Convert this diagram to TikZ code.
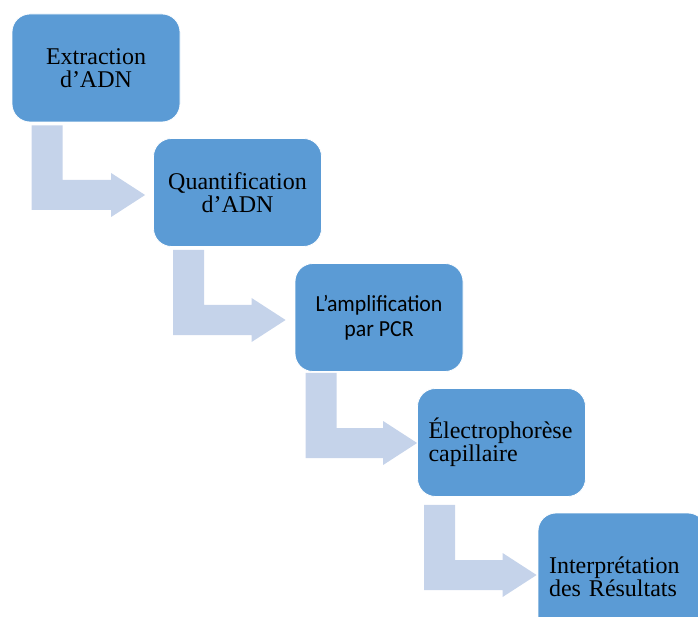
\documentclass[tikz,border=0pt]{standalone}
\usepackage{fontspec}
\setmainfont{Liberation Serif}
\newfontfamily\calibrifont[FakeStretch=0.95]{Carlito}
\usetikzlibrary{calc,backgrounds}
\definecolor{boxblue}{RGB}{91,155,213}
\definecolor{flowblue}{RGB}{197,211,234}
\begin{document}
\begin{tikzpicture}[x=1pt,y=-1pt,
    etape/.style={rounded corners=18pt, fill=boxblue, draw=white, line width=0.8pt,
        minimum width=168pt, minimum height=108pt, inner sep=11pt, align=center,
        font=\fontsize{24}{23}\selectfont},
    etapegauche/.style={etape, text width=146pt, align=left}]
\useasboundingbox (0,0) rectangle (698,617);
\clip (0,0) rectangle (698,617);

% Boxes, one step down and right each time
\node[etape] (extraction) at (96,68) {Extraction\\d’ADN};
\node[etape] (quantif) at (237.5,192.5) {Quantification\\d’ADN};
\node[etape, font=\calibrifont\fontsize{23}{25}\selectfont] (amplif) at (379,317.5) {L’amplification\\par PCR};
\node[etapegauche] (electro) at (501.5,442.5) {Électrophorèse\\capillaire};
\node[etapegauche, minimum height=128pt] (interp) at (622,577) {Interprétation\\des Résultats};

% Bent arrows behind the boxes
\begin{pgfonlayer}{background}
\foreach \a/\b/\dx/\dy/\gap/\off in {extraction/quantif/20/3/8/2.5, quantif/amplif/20/3/9/2.5,
        amplif/electro/11/1/0/0.5, electro/interp/7/8/1/-2}
    \fill[flowblue] let \p1=($(\a.south west)+(\dx,\dy)$), \p2=($(\b.west)+(-\gap,\off)$) in
        (\x1,\y1) -- (\x1,\y2-15pt) -- (\x2-34pt,\y2-15pt) -- (\x2-34pt,\y2-22pt)
        -- (\x2,\y2) -- (\x2-34pt,\y2+22pt) -- (\x2-34pt,\y2+15pt)
        -- (\x1+31pt,\y2+15pt) -- (\x1+31pt,\y1) -- cycle;
\end{pgfonlayer}
\end{tikzpicture}
\end{document}
